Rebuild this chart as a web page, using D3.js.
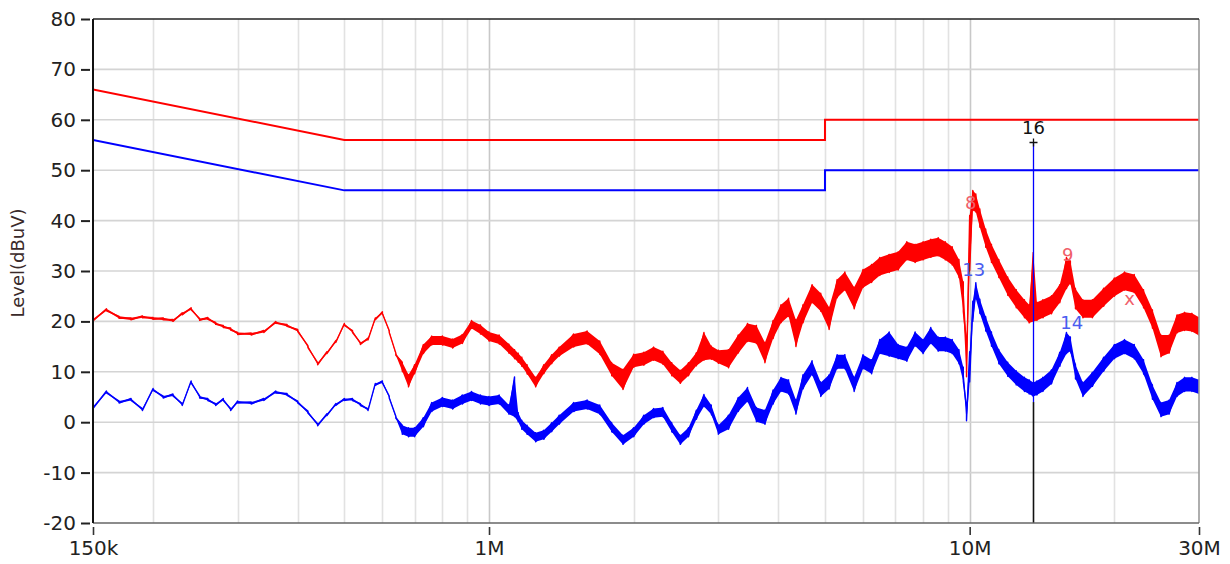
<!DOCTYPE html>
<html>
<head>
<meta charset="utf-8">
<script src="https://cdn.jsdelivr.net/npm/d3@7"></script>
<style>
  body { margin: 0; background: #fff; }
  svg { display: block; font-family: 'DejaVu Sans', sans-serif; }
</style>
</head>
<body>
<div id="chart"></div>
<script>
// frequencies in MHz
const freqs = [0.15,0.16,0.17,0.18,0.19,0.20,0.21,0.22,0.23,0.24,
    0.25,0.26,0.27,0.28,0.29,0.30,0.32,0.34,0.36,0.38,
    0.40,0.42,0.44,0.46,0.48,0.50,0.52,0.54,0.56,0.58,
    0.60,0.62,0.64,0.66,0.68,0.70,0.73,0.76,0.80,0.84,
    0.88,0.92,0.96,1.00,1.05,1.10,1.13,1.15,1.17,1.20,
    1.25,1.30,1.35,1.40,1.50,1.60,1.70,1.80,1.90,2.00,
    2.10,2.20,2.30,2.40,2.50,2.60,2.70,2.80,2.90,3.00,
    3.15,3.30,3.45,3.60,3.75,3.90,4.05,4.20,4.35,4.50,
    4.70,4.90,5.10,5.30,5.50,5.75,6.00,6.25,6.50,6.80,
    7.10,7.40,7.70,8.00,8.30,8.60,8.90,9.20,9.50,9.70,
    9.85,10.0,10.15,10.3,10.5,10.8,11.1,11.5,12.0,12.5,
    13.0,13.3,13.56,13.8,14.2,14.8,15.4,15.9,16.2,16.6,
    17.2,18.0,19.0,20.0,21.0,22.0,23.0,24.0,25.0,26.0,
    27.0,28.0,29.0,30.0];

// red trace (peak detector), upper and lower edge of the noise band, dBuV
const redMax = [20.5,22.5,21.0,20.7,21.1,20.8,20.7,20.4,21.7,22.7,
    20.6,20.8,19.8,19.2,18.7,17.8,17.7,18.2,20.0,19.4,
    18.4,15.2,11.8,14.0,16.2,19.6,18.2,15.8,16.7,20.7,
    21.9,18.2,13.7,11.9,9.4,11.4,15.4,17.1,17.1,16.5,
    17.4,20.2,19.3,17.9,17.3,15.5,14.4,13.7,12.9,11.4,
    8.9,11.4,13.4,14.9,17.5,18.1,16.1,11.8,10.5,13.5,
    13.9,14.9,14.1,11.8,10.3,11.8,13.8,17.8,15.1,14.3,
    14.4,17.3,19.6,19.2,15.8,20.2,23.3,24.6,20.3,23.3,
    27.3,25.6,22.8,28.3,29.8,26.8,30.3,31.3,32.7,33.3,
    33.8,35.8,35.3,35.8,36.3,36.6,35.8,34.8,32.3,27.8,
    16.0,41.0,46.0,45.3,42.3,38.3,35.3,32.3,28.8,26.3,
    24.3,23.3,33.7,23.8,24.3,25.1,27.3,32.7,32.0,26.5,
    24.3,24.3,26.6,28.6,29.8,29.3,26.3,22.3,17.3,17.3,
    21.3,21.8,21.6,20.8];
const redMin = [20.1,22.1,20.6,20.3,20.7,20.4,20.3,20.0,21.3,22.3,
    20.2,20.4,19.4,18.8,18.3,17.4,17.3,17.8,19.6,19.0,
    18.0,14.8,11.4,13.6,15.8,19.2,17.8,15.4,16.3,20.3,
    21.5,17.8,13.3,10.1,7.0,9.6,13.6,15.3,15.3,14.7,
    15.6,18.6,17.5,16.1,15.5,13.7,12.6,11.9,11.1,9.6,
    7.0,9.6,11.6,13.1,14.9,15.5,13.5,9.2,6.5,10.9,
    11.3,12.3,11.5,9.2,7.7,9.2,11.2,12.3,12.5,11.7,
    10.8,13.7,16.0,15.6,11.8,16.6,19.7,21.0,15.0,19.7,
    23.7,22.0,18.4,24.7,26.2,22.5,26.7,27.7,29.1,29.7,
    30.2,32.2,31.7,32.2,32.7,33.0,32.2,31.2,28.7,22.0,
    9.0,30.0,42.0,41.7,38.7,34.7,31.7,28.7,25.2,22.7,
    20.7,19.7,20.0,20.2,20.7,21.5,23.7,26.5,27.5,22.5,
    20.7,20.7,23.0,25.0,26.2,25.7,22.7,18.7,13.0,13.7,
    17.7,18.2,18.0,17.2];

// blue trace (average detector)
const blueMax = [3.1,6.2,4.2,4.7,2.7,6.7,5.2,5.6,3.7,8.2,
    5.2,4.7,3.7,4.7,2.7,4.2,4.0,4.7,6.2,5.7,
    4.2,2.2,-0.3,1.7,3.7,4.7,4.7,3.7,2.7,7.7,
    8.2,5.2,1.2,-0.6,-1.1,-1.1,0.9,3.9,4.9,4.4,
    5.4,6.1,5.4,5.1,5.4,3.4,9.0,1.9,0.4,-0.6,
    -2.1,-1.6,-0.1,1.4,3.9,4.4,3.4,-0.1,-2.6,-1.1,
    1.4,2.7,2.9,-0.1,-2.6,-1.1,2.4,5.5,3.4,-0.6,
    1.4,4.9,6.9,2.9,2.4,6.4,8.9,8.4,4.4,9.4,
    12.2,7.9,9.4,13.4,13.4,8.9,13.4,12.4,16.4,17.9,
    15.4,14.9,17.9,16.4,18.8,16.9,16.9,16.4,14.4,10.9,
    3.0,14.0,24.0,27.7,24.4,20.9,17.9,14.4,11.9,10.2,
    8.9,8.4,7.9,8.2,8.9,10.4,13.9,17.8,16.9,11.4,
    7.9,9.9,12.9,15.4,16.4,15.4,12.4,7.4,3.9,4.4,
    7.9,8.9,8.9,8.4];
const blueMin = [2.7,5.8,3.8,4.3,2.3,6.3,4.8,5.2,3.3,7.8,
    4.8,4.3,3.3,4.3,2.3,3.8,3.6,4.3,5.8,5.3,
    3.8,1.8,-0.7,1.3,3.3,4.3,4.3,3.3,2.3,7.3,
    7.8,4.8,0.8,-2.4,-2.9,-2.9,-0.9,2.1,3.1,2.6,
    3.6,4.3,3.6,3.3,3.6,1.6,1.1,0.1,-1.4,-2.4,
    -3.9,-3.4,-1.9,-0.4,2.1,2.6,1.6,-1.9,-4.4,-2.9,
    -0.4,0.9,1.1,-1.9,-4.4,-2.9,0.6,3.1,1.6,-2.4,
    -1.4,2.1,4.1,0.1,-0.4,3.6,6.1,5.6,1.6,6.6,
    9.4,5.1,6.6,10.6,10.6,6.1,10.6,9.6,13.6,13.1,
    12.6,12.1,15.1,13.6,15.6,14.1,14.1,13.6,11.6,8.1,
    0.3,8.0,20.0,24.5,21.6,18.1,15.1,11.6,9.1,7.4,
    6.1,5.6,5.1,5.4,6.1,7.6,11.1,13.6,14.1,8.6,
    5.1,7.1,10.1,12.6,13.6,12.6,9.6,4.6,1.1,1.6,
    5.1,6.1,6.1,5.6];

// limit lines
const limitFreqs = [0.15, 0.5, 5, 5, 30];
const qpLimit = [66, 56, 56, 60, 60];
const avLimit = [56, 46, 46, 50, 50];

// markers
const markerLabels = ['8', '13', '9', '14', 'x'];
const markerFreqs = [10.05, 10.2, 16.0, 16.3, 21.5];
const markerLevels = [43.2, 30.0, 33.0, 19.4, 24.3];
const markerColours = ['#f0606a', '#4a5cf0', '#f0606a', '#4a5cf0', '#f0606a'];

const m16 = {label: '16', freq: 13.56, level: 55.5, split: 4};

// axis ticks
const yTicks = [-20, -10, 0, 10, 20, 30, 40, 50, 60, 70, 80];
const xTickVals = [0.15, 1, 10, 30];
const xTickLabels = ['150k', '1M', '10M', '30M'];

drawChart();

function drawChart() {

    const width = 1230;
    const height = 564;
    const margin = {top: 19, right: 31, bottom: 41, left: 93};

    const red = '#ff0000';
    const blue = '#0000ff';

    const svg = d3.select('#chart')
        .append('svg')
            .attr('width', width)
            .attr('height', height);

    // SCALES
    const x = d3.scaleLog()
        .domain([0.15, 30])
        .range([margin.left, width - margin.right]);
    const y = d3.scaleLinear()
        .domain([-20, 80])
        .range([height - margin.bottom, margin.top]);

    const x0 = margin.left, x1 = width - margin.right;
    const y0 = height - margin.bottom, y1 = margin.top;

    svg.append('clipPath')
            .attr('id', 'plot-clip')
        .append('rect')
            .attr('x', x0)
            .attr('y', y1)
            .attr('width', x1 - x0)
            .attr('height', y0 - y1);

    // GRID
    const grid = svg.append('g').attr('id', 'grid');
    grid.selectAll('line.v')
        .data(x.ticks().filter(d => d > 0.15 && d < 30))
        .join('line')
            .attr('class', 'v')
            .attr('x1', d => Math.round(x(d)) + 0.5)
            .attr('x2', d => Math.round(x(d)) + 0.5)
            .attr('y1', y1)
            .attr('y2', y0)
            .attr('stroke', d => (d === 1 || d === 10) ? '#c8c8c8' : '#e2e2e2')
            .attr('stroke-width', 1.6);
    grid.selectAll('line.h')
        .data(yTicks.slice(1, -1))
        .join('line')
            .attr('class', 'h')
            .attr('x1', x0)
            .attr('x2', x1)
            .attr('y1', d => y(d))
            .attr('y2', d => y(d))
            .attr('stroke', '#d4d4d4')
            .attr('stroke-width', 1.6);

    // DRAWING TOOLS
    const limLine = d3.line()
        .x((d, i) => x(limitFreqs[i]))
        .y(d => y(d));
    const band = d3.area()
        .x((d, i) => x(freqs[i]))
        .y0(d => y(d[1]))
        .y1(d => y(d[0]));
    const zig = d3.line()
        .x(d => x(d[0]))
        .y(d => y(d[1]));

    // trace drawn as max/min sweep, gives the noisy look
    function zigPoints(hi, lo) {
        const pts = [];
        freqs.forEach((f, i) => {
            pts.push([f, hi[i]]);
            pts.push([f, lo[i]]);
        });
        return pts;
    }

    const plot = svg.append('g').attr('clip-path', 'url(#plot-clip)');

    // limit lines
    plot.append('path')
        .datum(qpLimit)
            .attr('fill', 'none')
            .attr('stroke', red)
            .attr('stroke-width', 2)
            .attr('d', limLine);
    plot.append('path')
        .datum(avLimit)
            .attr('fill', 'none')
            .attr('stroke', blue)
            .attr('stroke-width', 2)
            .attr('d', limLine);

    // traces
    [[redMax, redMin, red], [blueMax, blueMin, blue]].forEach(([hi, lo, c]) => {
        plot.append('path')
            .datum(hi.map((v, i) => [v, lo[i]]))
                .attr('fill', c)
                .attr('d', band);
        plot.append('path')
            .datum(zigPoints(hi, lo))
                .attr('fill', 'none')
                .attr('stroke', c)
                .attr('stroke-width', 1.4)
                .attr('stroke-linejoin', 'round')
                .attr('d', zig);
    });

    // marker 16 (13.56 MHz)
    const mx = Math.round(x(m16.freq)) + 0.5;
    plot.append('line')
        .attr('x1', mx).attr('x2', mx)
        .attr('y1', y(-20)).attr('y2', y(m16.split))
        .attr('stroke', '#111')
        .attr('stroke-width', 1.6);
    plot.append('line')
        .attr('x1', mx).attr('x2', mx)
        .attr('y1', y(m16.split)).attr('y2', y(m16.level))
        .attr('stroke', blue)
        .attr('stroke-width', 1.3);
    plot.append('path')
        .attr('d', `M${mx - 4},${y(m16.level)}H${mx + 4}M${mx},${y(m16.level) - 4}V${y(m16.level) + 4}`)
        .attr('stroke', '#111')
        .attr('stroke-width', 1.3);
    svg.append('text')
        .attr('x', mx)
        .attr('y', y(m16.level) - 13)
        .attr('text-anchor', 'middle')
        .attr('dominant-baseline', 'middle')
        .attr('font-size', '18px')
        .attr('fill', '#111')
        .text(m16.label);

    // other marker labels
    svg.append('g')
        .selectAll('text')
        .data(markerLabels)
        .join('text')
            .attr('x', (d, i) => x(markerFreqs[i]))
            .attr('y', (d, i) => y(markerLevels[i]))
            .attr('text-anchor', 'middle')
            .attr('dominant-baseline', 'middle')
            .attr('font-size', '18px')
            .attr('fill', (d, i) => markerColours[i])
            .text(d => d);

    // FRAME
    svg.append('line')
        .attr('x1', x1).attr('x2', x1).attr('y1', y1).attr('y2', y0)
        .attr('stroke', '#9a9a9a').attr('stroke-width', 1.6);
    svg.append('line')
        .attr('x1', x0).attr('x2', x1).attr('y1', y0).attr('y2', y0)
        .attr('stroke', '#666').attr('stroke-width', 1.6);
    svg.append('line')
        .attr('x1', x0).attr('x2', x1).attr('y1', y1).attr('y2', y1)
        .attr('stroke', '#222').attr('stroke-width', 1.6);
    svg.append('line')
        .attr('x1', x0).attr('x2', x0).attr('y1', y1).attr('y2', y0)
        .attr('stroke', '#111').attr('stroke-width', 2);

    // AXES
    const yx = g =>
        g
            .attr('transform', `translate(${x0 - 3},0)`)
            .call(d3.axisLeft(y)
                .tickValues(yTicks)
                .tickFormat(d => String(d))
                .tickSize(9)
                .tickPadding(5))
            .call(g => g.select('.domain').remove())
            .call(g => g.selectAll('.tick line')
                .attr('stroke', '#222')
                .attr('stroke-width', 2))
            .call(g => g.selectAll('.tick text')
                .attr('fill', '#222')
                .style('font-family', "'DejaVu Sans', sans-serif")
                .style('font-size', '20px'));
    const xx = g =>
        g
            .attr('transform', `translate(0,${y0 + 4})`)
            .call(d3.axisBottom(x)
                .tickValues(xTickVals)
                .tickFormat((d, i) => xTickLabels[i])
                .tickSize(8)
                .tickPadding(6))
            .call(g => g.select('.domain').remove())
            .call(g => g.selectAll('.tick line')
                .attr('stroke', '#333')
                .attr('stroke-width', 1.6))
            .call(g => g.selectAll('.tick text')
                .attr('fill', '#222')
                .style('font-family', "'DejaVu Sans', sans-serif")
                .style('font-size', '20px'));

    svg.append('g').call(yx);
    svg.append('g').call(xx);

    // y title
    svg.append('text')
        .attr('transform', `translate(24,${(y0 + y1) / 2 - 8}) rotate(-90)`)
        .attr('text-anchor', 'middle')
        .attr('font-size', '18px')
        .attr('fill', '#3a2a2a')
        .text('Level(dBuV)');
}
</script>
</body>
</html>
